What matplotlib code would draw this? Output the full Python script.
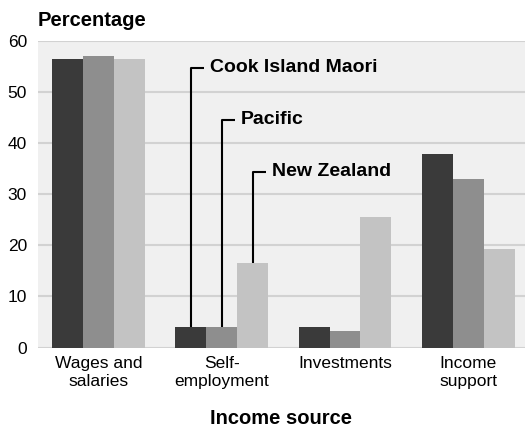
import numpy as np
import matplotlib.pyplot as plt

plt.rcParams['font.family'] = ['Liberation Sans', 'DejaVu Sans']

categories = ['Wages and\nsalaries', 'Self-\nemployment', 'Investments', 'Income\nsupport']
series = ['Cook Island Maori', 'Pacific', 'New Zealand']
cook = [56.5, 4.1, 4.1, 37.8]
pacific = [57.1, 4.1, 3.3, 32.9]
nz = [56.5, 16.5, 25.5, 19.2]
colors = ['#3a3a3a', '#8e8e8e', '#c3c3c3']
label_heights = [54.8, 44.6, 34.4]

fig = plt.figure(figsize=(5.25, 4.28), dpi=100)
ax = fig.add_axes([38 / 525, 1 - 347.5 / 428, 1 - 38 / 525, (347.5 - 41) / 428])
ax.set_facecolor('#f0f0f0')

x = np.arange(len(categories))
w = 0.25
for i, vals in enumerate([cook, pacific, nz]):
    ax.bar(x + (i - 1) * w, vals, width=w, color=colors[i], zorder=3)

# label leaders pointing at the self-employment bars
vals_se = [cook[1], pacific[1], nz[1]]
for i, name in enumerate(series):
    bx = x[1] + (i - 1) * w
    ytop = label_heights[i]
    ax.plot([bx, bx, bx + 0.11], [vals_se[i], ytop, ytop], color='black', lw=1.5,
            zorder=4, solid_capstyle='butt')
    ax.text(bx + 0.155, ytop, name, fontsize=14, fontweight='bold', va='center', ha='left')

ax.set_xlim(-0.49, 3.46)
ax.set_ylim(0, 60)
ax.set_yticks([0, 10, 20, 30, 40, 50, 60])
ax.set_xticks(x)
ax.set_xticklabels(categories, fontsize=12.5, linespacing=1.3)
ax.tick_params(axis='y', labelsize=12.5, length=0, pad=8)
ax.tick_params(axis='x', length=0, pad=6)
ax.yaxis.grid(True, color='#d2d2d2', lw=1.5, zorder=0)
ax.set_axisbelow(True)
for s in ax.spines.values():
    s.set_visible(False)

fig.text(38 / 525, 1 - 20 / 428, 'Percentage', fontsize=14.5, fontweight='bold',
         ha='left', va='center')
fig.text((38 + 525) / 2 / 525, 1 - 418 / 428, 'Income source', fontsize=14.5,
         fontweight='bold', ha='center', va='center')

fig.savefig('out.png', dpi=100)
